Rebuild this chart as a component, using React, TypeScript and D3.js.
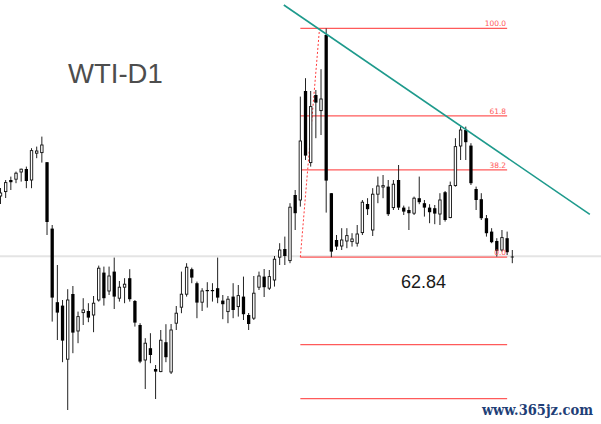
import React from "react";
import * as d3 from "d3";

const W = 601;
const H = 424;

// Daily OHLC of WTI (price in USD)
const opens = [65.90,66.12,66.70,66.74,67.10,67.25,66.70,68.04,68.07,67.59,64.27,60.59,60.42,57.74,61.00,59.15,60.07,60.15,59.95,60.70,62.07,61.15,62.12,60.79,61.34,61.79,60.65,59.45,57.70,58.29,57.25,57.12,58.59,57.10,59.54,60.34,60.99,62.24,61.54,60.59,61.20,61.20,61.29,60.67,60.12,60.87,60.37,60.87,59.95,59.79,61.34,61.87,61.29,61.70,62.84,63.25,62.67,65.95,65.70,71.15,67.57,70.95,70.17,73.95,66.04,63.70,63.40,63.65,63.62,63.54,64.07,65.50,64.20,65.99,66.35,66.37,65.32,66.70,65.32,65.20,65.04,65.79,65.54,65.32,65.29,65.00,66.09,64.82,66.42,68.40,69.20,68.42,66.25,65.74,64.79,64.12,63.65,63.20,63.79,62.87];
const highs = [66.30,66.70,66.87,67.12,67.27,67.37,68.29,68.37,68.87,67.60,64.45,62.45,60.70,61.24,61.40,60.12,60.79,60.54,60.90,62.42,62.37,62.37,62.82,61.65,61.79,62.24,60.70,59.54,58.79,59.04,57.45,59.20,59.49,59.50,60.40,62.12,62.54,62.32,61.62,61.29,61.59,61.54,62.82,60.95,60.90,61.54,61.45,61.87,60.05,61.90,62.12,62.25,62.20,62.90,63.54,63.87,65.54,66.20,70.87,71.79,71.15,71.20,72.24,74.28,66.05,63.95,64.29,64.29,64.04,64.45,65.70,65.79,66.29,66.87,66.95,66.70,66.70,67.45,65.42,65.37,65.87,66.87,65.70,65.49,65.45,66.04,66.15,66.62,68.79,69.37,69.37,68.54,66.37,66.04,64.95,64.29,63.79,64.20,64.12,63.20];
const lows = [65.50,65.80,66.20,66.54,66.62,66.29,66.29,67.79,67.57,63.95,59.62,58.70,57.59,55.20,58.04,58.54,59.45,59.59,59.09,60.62,60.42,60.95,60.25,60.62,60.54,60.62,59.37,57.54,56.25,57.54,55.75,57.09,57.59,57.00,59.20,60.04,60.87,61.54,59.79,60.15,60.32,60.62,60.54,59.74,59.54,59.79,59.87,59.70,59.20,59.70,61.20,60.85,61.20,61.37,62.45,62.45,62.54,64.20,65.37,67.70,67.37,68.79,68.95,65.07,62.84,63.20,63.20,63.29,63.37,63.37,63.95,64.95,63.90,65.54,65.79,64.90,65.20,65.20,64.95,64.20,64.95,65.49,64.87,64.54,64.49,64.45,64.62,64.79,66.37,67.70,67.70,66.45,65.20,64.70,63.87,63.54,62.87,63.12,62.95,62.54];
const closes = [66.05,66.57,66.59,67.04,67.24,66.65,68.17,68.15,68.45,64.60,60.82,60.07,58.67,60.70,59.07,59.87,60.20,59.82,60.54,62.29,60.79,61.90,60.87,61.34,61.49,60.74,59.57,57.62,58.54,57.95,57.12,58.69,57.84,59.20,60.04,60.99,62.34,61.82,60.57,61.15,61.14,61.14,60.82,60.49,60.74,60.20,60.92,59.99,59.50,61.04,61.90,61.34,61.87,62.74,63.20,62.90,65.34,65.04,68.65,67.92,70.37,70.57,70.75,66.67,63.12,63.37,63.70,63.92,63.75,64.00,65.59,65.24,65.99,66.40,66.42,64.99,66.49,65.32,65.12,65.04,65.79,65.59,65.32,65.09,65.02,65.70,64.70,66.42,68.37,69.20,68.59,66.54,65.70,64.79,64.04,63.59,63.15,63.82,63.09,62.84];

// Fibonacci retracement
const fibLevels = [100, 61.8, 38.2, 0, -38.2, -61.8];
const fibLabels = ["100.0", "61.8", "38.2", "0.0", "", ""];
const fibLow = 62.84;
const fibHigh = 74.28;
const fibFromIndex = 58;
const fibToIndex = 62;
const fibEndIndex = 98;

// Trend line (index, price)
const trendIdx = [54.8, 114];
const trendPrice = [75.45, 64.98];

const currentPrice = 62.84;
const title = "WTI-D1";
const priceLabel = "62.84";
const watermark = "www.365jz.com";

export default function App() {
  const n = opens.length;
  const x = d3.scaleLinear().domain([0, n - 1]).range([0.5, 512.3]);
  const y = d3.scaleLinear().domain([75.70, 54.5]).range([0, H]);
  const fibY = (lv: number) => y(fibLow + (fibHigh - fibLow) * lv / 100);
  const line = d3.line<[number, number]>().x(d => x(d[0])).y(d => y(d[1]));
  const trend = line([[trendIdx[0], trendPrice[0]], [trendIdx[1], trendPrice[1]]]) || "";
  const bw = 3.3;
  return (
    <svg width={W} height={H} style={{ position: "absolute", left: 0, top: 0, background: "#fff" }}
      fontFamily="'Liberation Sans', Arial, sans-serif">
      <rect x={0} y={0} width={W} height={H} fill="#fff" />
      {/* current price line */}
      <line x1={0} x2={W} y1={y(currentPrice) - 1} y2={y(currentPrice) - 1} stroke="#e4e4e4" strokeWidth={2} />
      {/* fib lines */}
      {fibLevels.map((lv, i) => (
        <line key={"f" + i} x1={x(fibFromIndex)} x2={x(fibEndIndex)} y1={fibY(lv)} y2={fibY(lv)}
          stroke="#ff5a5a" strokeWidth={1.2} />
      ))}
      <line x1={x(fibFromIndex)} y1={fibY(0)} x2={x(fibToIndex) - 1.5} y2={fibY(100)} stroke="#ff3b3b" strokeWidth={1} strokeDasharray="2,2" />
      {/* candles */}
      {opens.map((o, i) => {
        const c = closes[i];
        const cx = x(i);
        const up = c >= o;
        const top = y(Math.max(o, c));
        const bot = y(Math.min(o, c));
        const h = Math.max(bot - top, 0.8);
        return (
          <g key={i}>
            <line x1={cx} x2={cx} y1={y(highs[i])} y2={y(lows[i])} stroke="#222" strokeWidth={1} />
            {up ? (
              <rect x={cx - bw / 2 + 0.45} y={top} width={bw - 0.9} height={h} fill="#fff" stroke="#111" strokeWidth={0.9} />
            ) : (
              <rect x={cx - bw / 2} y={top} width={bw} height={h} fill="#000" />
            )}
          </g>
        );
      })}
      {/* fib labels */}
      {fibLevels.map((lv, i) => fibLabels[i] ? (
        <text key={"l" + i} x={x(fibEndIndex) - 1} y={fibY(lv) - 2} textAnchor="end" fontSize={7.5}
          fontFamily="'DejaVu Sans', sans-serif" fill="#ff5a5a">{fibLabels[i]}</text>
      ) : null)}
      {/* trend line */}
      <path d={trend} stroke="#1e9a8c" strokeWidth={1.6} fill="none" />
      <text x={68} y={83} fontSize={27.5} fill="#4d4d4d">{title}</text>
      <text x={423.5} y={288} fontSize={18} fill="#1a1a1a" textAnchor="middle">{priceLabel}</text>
      <text x={593} y={415} fontSize={14.5} fontWeight="bold" fill="#1f3f77" textAnchor="end"
        fontFamily="'DejaVu Serif Condensed', 'DejaVu Serif', serif">{watermark}</text>
    </svg>
  );
}
